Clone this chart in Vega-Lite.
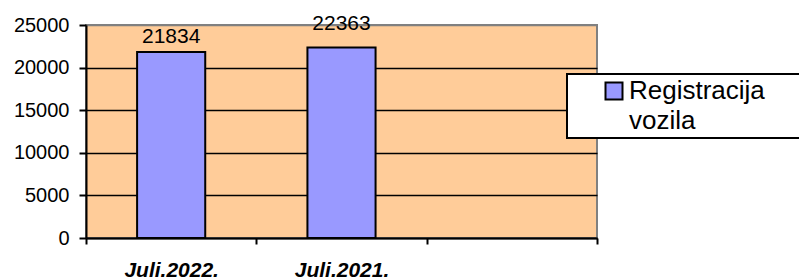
{
  "$schema": "https://vega.github.io/schema/vega-lite/v6.json",
  "width": 511,
  "height": 213,
  "autosize": {"type": "none"},
  "padding": {"left": 86, "top": 25, "right": 202, "bottom": 41},
  "background": "white",
  "config": {
    "font": "Liberation Sans",
    "view": {"fill": "#FFCC99", "stroke": "#808080", "strokeWidth": 2},
    "style": {"guide-label": {"lineHeight": 30}},
    "legend": {"strokeWidth": 2}
  },
  "data": {
    "values": [
      {"period": "Juli.2022.", "value": 21834, "series": "Registracija vozila"},
      {"period": "Juli.2021.", "value": 22363, "series": "Registracija vozila"}
    ]
  },
  "encoding": {
    "x": {
      "field": "period",
      "type": "nominal",
      "sort": null,
      "scale": {"domain": ["Juli.2022.", "Juli.2021.", " "], "paddingInner": 0, "paddingOuter": 0},
      "axis": {
        "title": null,
        "labelAngle": 0,
        "tickBand": "extent",
        "tickSize": 6,
        "tickWidth": 2,
        "tickColor": "black",
        "domainColor": "black",
        "domainWidth": 2,
        "labelFontSize": 21,
        "labelFontStyle": "italic",
        "labelFontWeight": "bold",
        "labelColor": "black",
        "labelBaseline": "alphabetic",
        "labelPadding": 32,
        "grid": false
      }
    },
    "y": {
      "field": "value",
      "type": "quantitative",
      "scale": {"domain": [0, 25000], "nice": false},
      "axis": {
        "title": null,
        "values": [0, 5000, 10000, 15000, 20000, 25000],
        "format": "d",
        "domainColor": "black",
        "domainWidth": 2,
        "tickColor": "black",
        "tickSize": 7,
        "tickWidth": 2,
        "labelFontSize": 20,
        "labelColor": "black",
        "labelPadding": 10,
        "grid": true,
        "gridColor": {"condition": {"test": "datum.value === 25000", "value": "#808080"}, "value": "black"},
        "gridWidth": 1.5,
        "gridOpacity": 1
      }
    }
  },
  "layer": [
    {
      "mark": {"type": "bar", "width": {"band": 0.4}, "stroke": "black", "strokeWidth": 2, "opacity": 1},
      "encoding": {
        "color": {
          "field": "series",
          "type": "nominal",
          "scale": {"range": ["#9999FF"]},
          "legend": {
            "orient": "none",
            "legendX": 481,
            "legendY": 49,
            "title": "x",
            "titleOrient": "right",
            "titleColor": "transparent",
            "titleFontSize": 2,
            "titlePadding": 34,
            "padding": 4,
            "fillColor": "white",
            "strokeColor": "black",
            "symbolType": "square",
            "symbolSize": 289,
            "symbolOffset": 30,
            "symbolStrokeColor": "black",
            "symbolStrokeWidth": 2,
            "symbolOpacity": 1,
            "labelFontSize": 26,
            "labelColor": "black",
            "labelOffset": 2,
            "labelLimit": 0,
            "labelExpr": "['Registracija', 'vozila']"
          }
        }
      }
    },
    {
      "transform": [{"filter": "datum.period === 'Juli.2022.'"}],
      "mark": {"type": "text", "baseline": "alphabetic", "dy": -9, "fontSize": 21, "color": "black"},
      "encoding": {"text": {"field": "value", "type": "quantitative", "format": "d"}}
    },
    {
      "transform": [{"filter": "datum.period === 'Juli.2021.'"}],
      "mark": {"type": "text", "baseline": "alphabetic", "dy": -17, "fontSize": 21, "color": "black"},
      "encoding": {"text": {"field": "value", "type": "quantitative", "format": "d"}}
    }
  ]
}
